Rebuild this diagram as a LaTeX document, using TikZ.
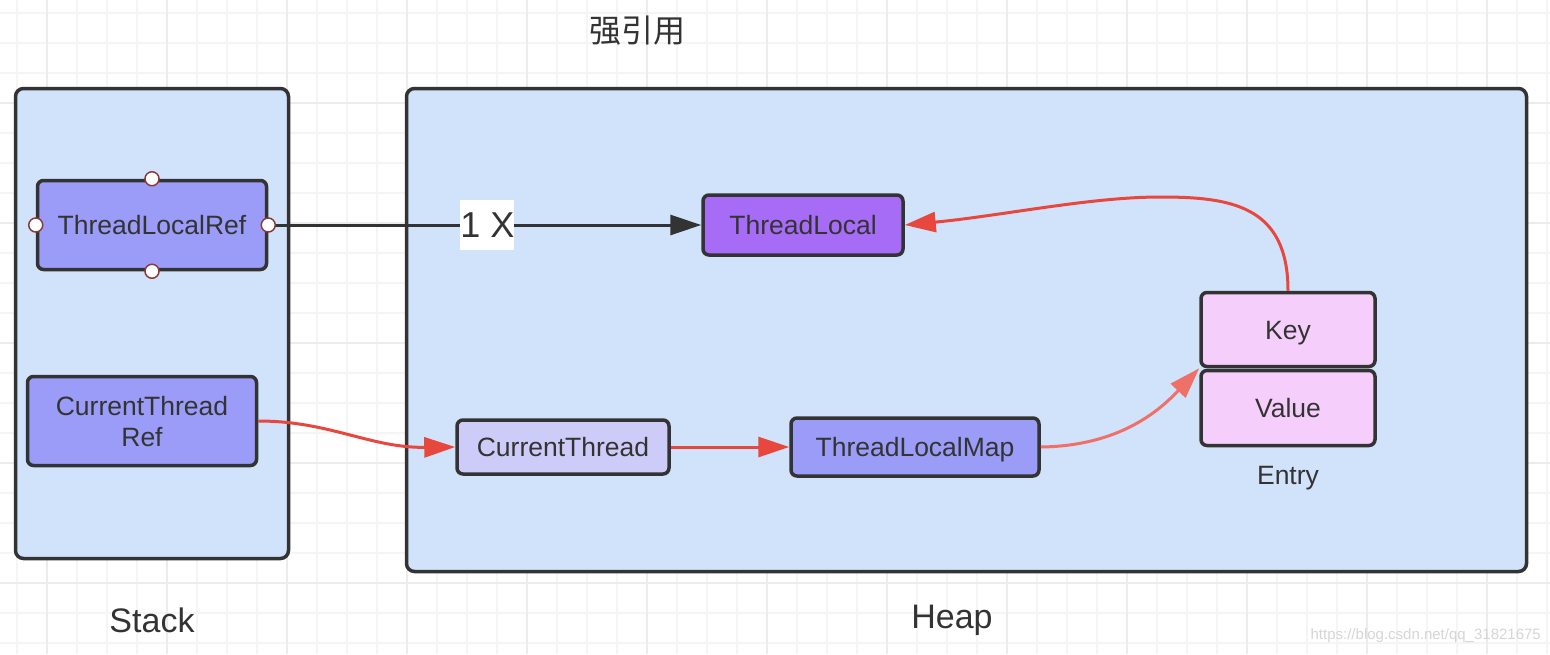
\documentclass[tikz,border=0pt]{standalone}
\usepackage{fontspec}
\setmainfont{Liberation Sans}
\newfontfamily\cjkfont{Noto Sans CJK SC}
\usetikzlibrary{arrows.meta}
\definecolor{gridminor}{HTML}{F5F5F5}
\definecolor{gridmajor}{HTML}{ECECEC}
\definecolor{contfill}{HTML}{D1E3FA}
\definecolor{bordc}{HTML}{333333}
\definecolor{txt}{HTML}{333333}
\definecolor{periw}{HTML}{9A9CF7}
\definecolor{purp}{HTML}{A66CF5}
\definecolor{lavender}{HTML}{CDCCF8}
\definecolor{pinkc}{HTML}{F6CEFB}
\definecolor{redc}{HTML}{E8473D}
\definecolor{redlight}{HTML}{EE7068}
\definecolor{handc}{HTML}{8B3A3A}
\definecolor{wmark}{HTML}{D6D6D6}
\begin{document}
\begin{tikzpicture}[x=1pt,y=-1pt,
  container/.style={draw=bordc, fill=contfill, line width=3.5pt, rounded corners=8pt, inner sep=0pt},
  box/.style={draw=bordc, line width=3.5pt, rounded corners=6pt, inner sep=0pt, text=txt,
    font=\fontsize{26.5}{31}\selectfont, align=center, text height=19pt, text depth=0pt},
  redarrow/.style={draw=redc, line width=3pt, -{Triangle[length=31pt,width=20pt]}},
  blackarrow/.style={draw=bordc, line width=3pt, -{Triangle[length=31pt,width=20pt]}},
  handle/.style={circle, draw=handc, fill=white, line width=1.5pt, inner sep=0pt, minimum size=14pt},
  bigtext/.style={text=txt, font=\fontsize{34}{34}\selectfont, inner sep=0pt}
]
\useasboundingbox (0,0) rectangle (1550,654);
\fill[white] (0,0) rectangle (1550,654);
% grid
\foreach \gx in {17,47,...,1547} \draw[gridminor, line width=1.2pt] (\gx,0) -- (\gx,654);
\foreach \gy in {13,43,...,643} \draw[gridminor, line width=1.2pt] (0,\gy) -- (1550,\gy);
\foreach \gx in {47,167,...,1487} \draw[gridmajor, line width=1.8pt] (\gx,0) -- (\gx,654);
\foreach \gy in {103,223,...,583} \draw[gridmajor, line width=1.8pt] (0,\gy) -- (1550,\gy);

% containers
\node[container, minimum width=273pt, minimum height=470pt] (stack) at (152,323.5) {};
\node[container, minimum width=1120pt, minimum height=483pt] (heap) at (966.5,330) {};

% title and labels
\node[text=txt, font=\cjkfont\fontsize{32}{32}\selectfont, inner sep=0pt] (title) at (637,31) {强引用};
\node[bigtext] (stacklbl) at (152,620) {Stack};
\node[bigtext] (heaplbl) at (952,620) {Heap};
\node[text=txt, font=\fontsize{26.5}{26}\selectfont, inner sep=0pt] (entrylbl) at (1288,478) {Entry};
\node[text=wmark, font=\fontsize{15}{15}\selectfont, inner sep=0pt, anchor=east] (wm) at (1541,636) {https://blog.csdn.net/qq\_31821675};

% nodes
\node[box, fill=periw, minimum width=229pt, minimum height=89pt] (trf) at (152,225) {ThreadLocalRef};
\node[box, fill=periw, minimum width=229pt, minimum height=89pt, text height=50pt] (ctr) at (142,421) {CurrentThread\\Ref};
\node[box, fill=purp, minimum width=200pt, minimum height=60pt] (tl) at (803,225) {ThreadLocal};
\node[box, fill=lavender, minimum width=212pt, minimum height=54pt] (ct) at (563,447) {CurrentThread};
\node[box, fill=periw, minimum width=248pt, minimum height=58pt] (tlm) at (915,447) {ThreadLocalMap};
\node[box, fill=pinkc, minimum width=174pt, minimum height=74pt] (key) at (1288,329.5) {Key};
\node[box, fill=pinkc, minimum width=174pt, minimum height=75pt] (val) at (1288,408) {Value};

% connectors
\draw[blackarrow] (trf.east) -- node[pos=0.506, fill=white, inner sep=0pt, minimum width=54pt, minimum height=50pt,
  text=txt, font=\fontsize{36}{36}\selectfont] (lbl) {1 X} (tl.west);
\coordinate (kv) at (1160,197);
\draw[redarrow] (key.north) .. controls (1288,205) and (1230,197) .. (kv) .. controls (1090,197) and (1000,216) .. (tl.east);
\draw[redarrow] (ctr.east) .. controls (330,421) and (370,448) .. (ct.west);
\draw[redarrow] (ct.east) -- (tlm.west);
\draw[redarrow, draw=redlight] (tlm.east) .. controls (1120,446) and (1160,410) .. (key.south west);

% handles
\node[handle] (hn) at (trf.north) {};
\node[handle] (hs) at (trf.south) {};
\node[handle] (hw) at (trf.west) {};
\node[handle] (he) at (trf.east) {};
\end{tikzpicture}
\end{document}
